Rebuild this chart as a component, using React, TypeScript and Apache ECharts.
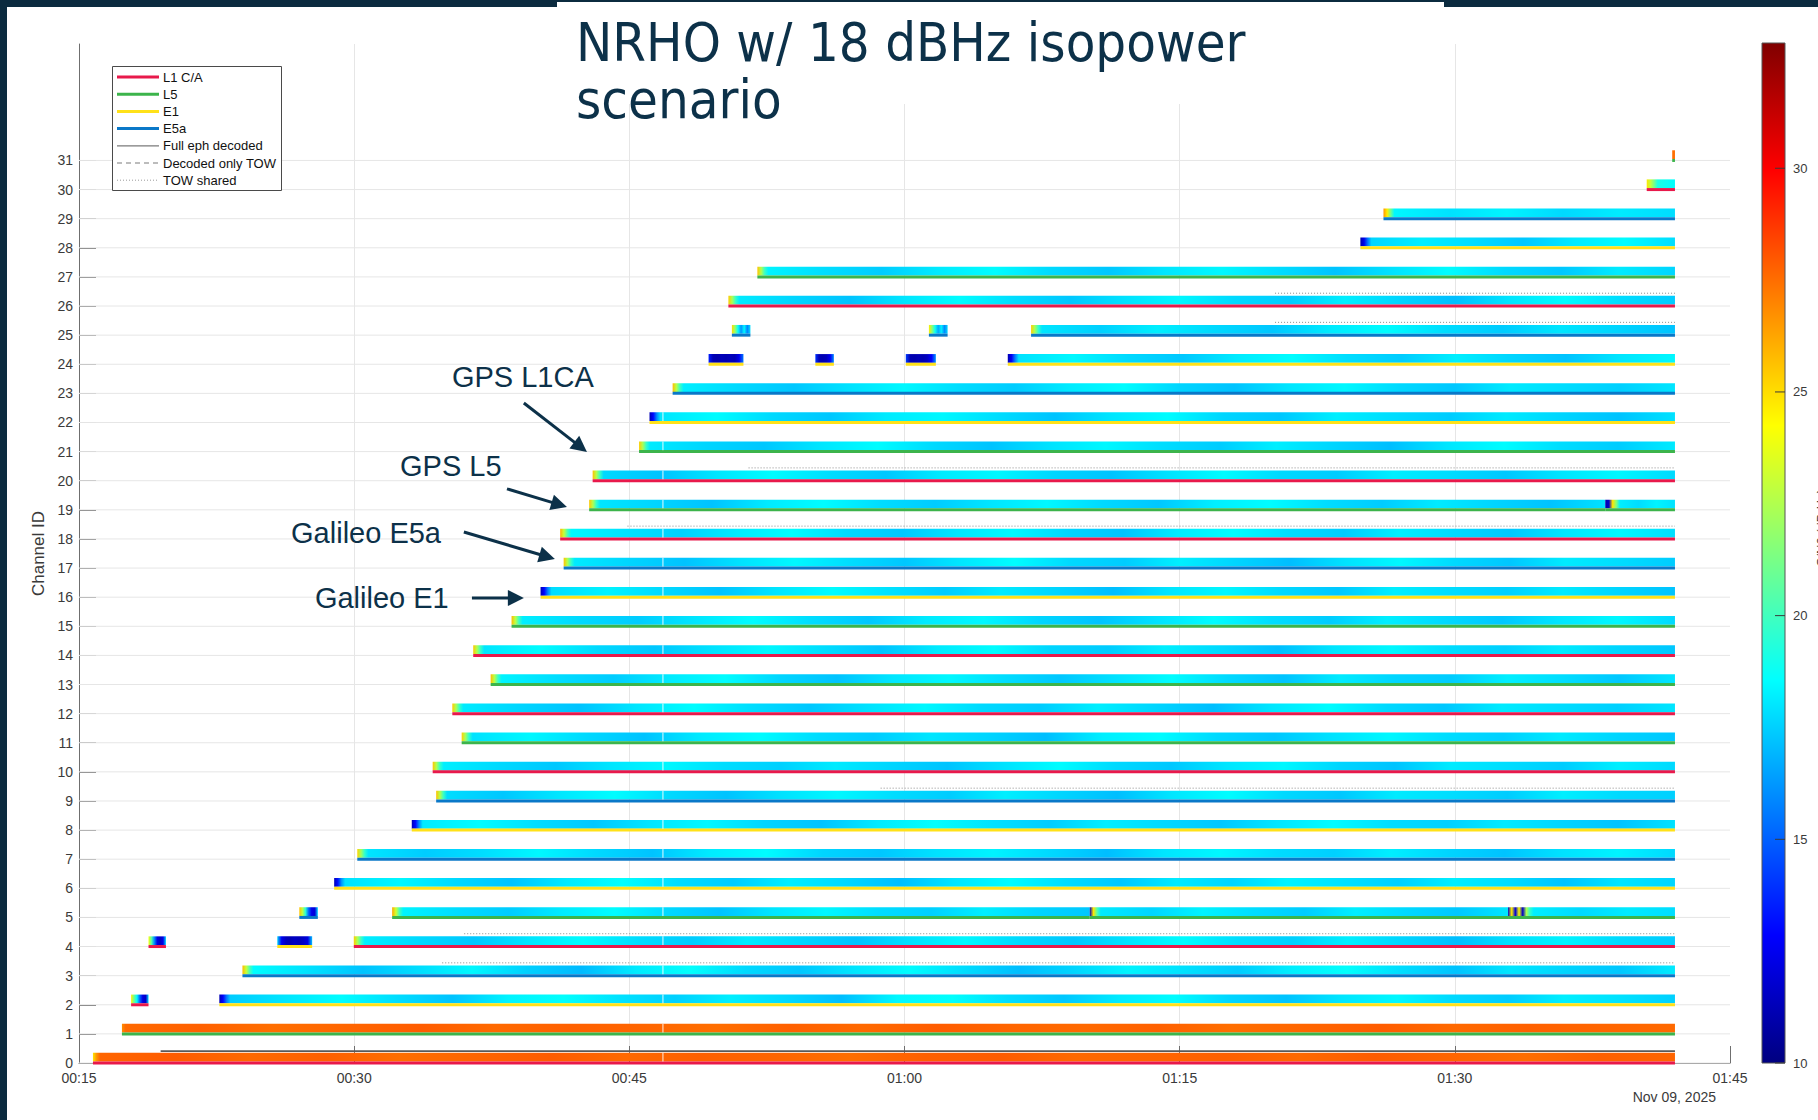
import React, { useEffect, useRef } from "react";
import * as echarts from "echarts";

// ---- axes -------------------------------------------------------------
// Time is in minutes after 00:00 (Nov 09, 2025)
const TIME_MIN = 15;
const TIME_MAX = 105;
const TIME_STEP = 15;
const DATE_LABEL = "Nov 09, 2025";

const CHANNEL_MAX = 35;
const CHANNEL_TICKS = [
  0, 1, 2, 3, 4, 5, 6, 7, 8, 9, 10, 11, 12, 13, 14, 15, 16, 17, 18, 19, 20, 21,
  22, 23, 24, 25, 26, 27, 28, 29, 30, 31,
];

// C/N0 colour scale (dB-Hz)
const CN0_MIN = 10;
const CN0_MAX = 32.8;
const CN0_TICKS = [10, 15, 20, 25, 30];

// ---- signals ------------------------------------------------------------
const SIGNAL_NAMES = ["L1 C/A", "L5", "E1", "E5a"];
const SIGNAL_COLORS = ["#e8194b", "#3cb44b", "#ffe119", "#0a78c8"];
const STATUS_NAMES = ["Full eph decoded", "Decoded only TOW", "TOW shared"];

// lead-in samples are LEAD_STEP minutes apart, the remaining C/N0 samples are
// spread evenly up to the end of the track
const LEAD_STEP = 0.2;

// [channel, signal, start, end, lead-in C/N0, C/N0]
type Track = [number, number, number, number, number[], number[]];
const TRACKS: Track[] = [
  [0, 0, 15.76, 102, [24.8, 26.6], [27.7, 27.9, 27.6, 27.8, 27.5, 27.7, 27.9, 27.6, 27.8, 27.7, 27.5, 27.8, 27.9, 27.6, 27.7, 27.8, 27.6, 27.9, 27.7, 27.5, 27.8, 27.7]],
  [1, 1, 17.34, 102, [26.8], [27.6, 27.8, 27.5, 27.7, 27.9, 27.6, 27.8, 27.7, 27.5, 27.8, 27.6, 27.9, 27.7, 27.6, 27.8, 27.5, 27.7, 27.9, 27.6, 27.8, 27.7, 27.6]],
  [2, 0, 17.84, 18.79, [], [24.5, 21, 18.5, 15, 12.2, 11.6, 17.5]],
  [2, 2, 22.65, 102, [11.2, 12.8, 15.5], [17.4, 18.0, 18.5, 17.8, 17.2, 18.3, 18.6, 17.9, 17.5, 18.2, 17.7, 17.1, 18.4, 18.6, 17.8, 17.3, 18.1, 18.5, 17.6, 17.2, 18.0, 18.4, 17.7, 17.4, 18.2, 17.9, 17.5]],
  [3, 3, 23.91, 102, [25.8, 23, 20.2], [18.5, 17.9, 17.2, 17.8, 18.4, 17.5, 17.0, 18.1, 18.6, 17.7, 17.3, 18.0, 18.5, 17.8, 17.1, 17.6, 18.3, 17.9, 17.4, 18.2, 18.6, 17.8, 17.2, 18.0, 17.6, 17.3, 18.1]],
  [4, 0, 18.79, 19.74, [], [24.2, 20.5, 16, 12.3, 11.5, 12.4, 17.8]],
  [4, 2, 25.81, 27.71, [], [17.5, 12.5, 11.4, 11.2, 11.5, 11.3, 11.6, 12.2, 17.2]],
  [4, 0, 29.98, 102, [25.4, 22.4, 19.8], [18.2, 17.7, 17.3, 18.0, 18.5, 17.8, 17.4, 18.1, 17.6, 17.2, 17.9, 18.4, 17.7, 17.3, 18.0, 18.5, 17.8, 17.5, 18.2, 17.6, 17.1, 17.9, 18.3, 17.7, 17.4]],
  [5, 3, 27.01, 28.02, [], [25.6, 22.8, 19.5, 15.2, 12.4, 12.0, 17.6]],
  [5, 1, 32.07, 70.1, [26.2, 23.2, 20.1], [18.3, 17.8, 17.4, 18.1, 18.5, 17.7, 17.2, 18.0, 18.4, 17.8, 17.5, 18.2, 17.6, 17.3]],
  [5, 1, 70.1, 92.9, [11.2, 24.8, 20.4], [18.1, 17.6, 18.3, 17.8, 17.4, 18.2, 17.7, 17.3, 18.0]],
  [5, 1, 92.9, 102, [11.4, 24.6, 12.0, 24.2, 11.6, 22.5, 19.6], [18.2, 17.7, 18.1, 17.8]],
  [6, 2, 28.91, 102, [11.3, 13.2, 16.2], [17.9, 18.4, 17.7, 17.2, 18.1, 18.6, 17.8, 17.4, 18.2, 17.7, 17.1, 18.0, 18.5, 17.8, 17.3, 18.1, 17.6, 18.3, 17.9, 17.5, 18.2, 17.8, 17.2, 18.0, 17.6]],
  [7, 3, 30.17, 102, [25.2, 22.2, 19.6], [18.0, 17.4, 17.8, 18.4, 17.7, 17.2, 18.1, 18.5, 17.6, 17.3, 17.9, 18.3, 17.7, 17.1, 18.0, 18.4, 17.8, 17.5, 18.2, 17.6, 17.2, 17.9, 18.3, 17.7]],
  [8, 2, 33.14, 102, [11.2, 13.0, 16.0], [18.1, 18.5, 17.8, 17.3, 18.0, 18.4, 17.6, 17.2, 18.1, 18.6, 17.9, 17.4, 18.2, 17.7, 17.3, 18.0, 18.5, 17.8, 17.5, 18.1, 17.6, 17.2, 17.9]],
  [9, 3, 34.47, 102, [25.6, 22.6, 19.8], [17.8, 17.3, 18.0, 18.5, 17.7, 17.2, 17.9, 18.4, 17.8, 17.4, 18.2, 17.6, 17.1, 18.0, 18.5, 17.7, 17.3, 18.1, 17.8, 17.4, 18.2, 17.7, 17.5]],
  [10, 0, 34.28, 102, [25.5, 22.5, 19.7], [18.2, 17.7, 17.3, 18.0, 18.4, 17.8, 17.5, 18.1, 17.6, 17.2, 17.9, 18.5, 17.7, 17.3, 18.0, 18.4, 17.6, 17.2, 18.1, 17.8, 17.4, 18.2, 17.7]],
  [11, 1, 35.86, 102, [25.3, 22.3, 19.6], [17.9, 18.4, 17.7, 17.2, 18.1, 18.5, 17.8, 17.4, 18.0, 17.6, 17.1, 18.2, 18.5, 17.7, 17.3, 17.9, 18.4, 17.8, 17.5, 18.1, 17.6, 17.3]],
  [12, 0, 35.35, 102, [25.4, 22.4, 19.7], [18.1, 17.6, 17.2, 18.0, 18.5, 17.8, 17.3, 17.9, 18.4, 17.7, 17.4, 18.2, 17.6, 17.1, 18.0, 18.5, 17.7, 17.3, 18.1, 17.8, 17.5, 18.0]],
  [13, 1, 37.44, 102, [25.7, 22.7, 19.9], [18.3, 17.8, 17.4, 18.1, 18.5, 17.6, 17.2, 18.0, 18.4, 17.8, 17.3, 17.9, 18.5, 17.7, 17.2, 18.1, 17.6, 17.4, 18.2, 17.8, 17.3, 18.0]],
  [14, 0, 36.49, 102, [25.5, 22.5, 19.8], [18.0, 18.5, 17.7, 17.3, 17.9, 18.4, 17.8, 17.2, 18.1, 18.5, 17.6, 17.4, 18.2, 17.7, 17.1, 18.0, 18.4, 17.8, 17.5, 18.1, 17.6, 17.3]],
  [15, 1, 38.58, 102, [25.8, 22.8, 20.0], [18.2, 17.7, 17.4, 18.0, 18.5, 17.8, 17.3, 18.1, 18.4, 17.6, 17.2, 17.9, 18.5, 17.8, 17.4, 18.2, 17.7, 17.3, 18.0, 18.4, 17.7]],
  [16, 2, 40.16, 102, [11.2, 12.9, 15.8], [17.8, 18.3, 17.7, 17.2, 18.0, 18.5, 17.9, 17.4, 18.1, 17.6, 17.1, 18.0, 18.4, 17.7, 17.3, 18.2, 17.8, 17.5, 18.1, 17.6, 17.2]],
  [17, 3, 41.42, 102, [25.6, 22.6, 19.8], [18.1, 17.6, 17.2, 17.9, 18.4, 17.8, 17.3, 18.0, 18.5, 17.7, 17.4, 18.2, 17.6, 17.1, 17.9, 18.4, 17.7, 17.3, 18.1, 17.8, 17.4]],
  [18, 0, 41.23, 102, [25.9, 23.0, 20.2], [18.4, 17.9, 17.5, 18.1, 18.5, 17.7, 17.3, 18.0, 18.4, 17.6, 17.2, 18.1, 18.5, 17.8, 17.4, 18.2, 17.7, 17.3, 18.0, 18.4, 17.8]],
  [19, 1, 42.81, 98.2, [25.5, 22.5, 19.7], [18.0, 17.6, 17.2, 18.1, 18.5, 17.8, 17.4, 18.0, 18.4, 17.7, 17.3, 18.2, 18.5, 17.8, 17.4, 18.1, 17.6, 17.2, 17.9]],
  [19, 1, 98.2, 102, [11.0, 11.6, 24.8, 21.5], [18.2, 17.8, 18.3, 17.9]],
  [20, 0, 43.0, 102, [25.6, 22.6, 19.8], [17.7, 17.2, 18.0, 18.5, 17.8, 17.3, 18.1, 18.4, 17.6, 17.2, 17.9, 18.5, 17.7, 17.4, 18.2, 17.8, 17.3, 18.0, 18.4, 17.7]],
  [21, 1, 45.53, 102, [25.4, 22.4, 19.7], [18.1, 17.6, 17.3, 18.0, 18.5, 17.7, 17.2, 17.9, 18.4, 17.8, 17.4, 18.2, 17.6, 17.1, 18.0, 18.5, 17.8, 17.4, 18.1]],
  [22, 2, 46.1, 102, [11.2, 13.0, 16.0], [18.0, 18.5, 17.7, 17.3, 18.1, 18.4, 17.8, 17.2, 18.0, 18.5, 17.6, 17.3, 18.2, 17.8, 17.4, 18.1, 17.6, 17.2, 17.9]],
  [23, 3, 47.36, 102, [25.7, 22.7, 19.9], [18.2, 17.7, 17.3, 17.9, 18.4, 17.8, 17.4, 18.1, 18.5, 17.6, 17.2, 18.0, 18.4, 17.7, 17.3, 18.1, 17.8, 17.5, 18.0]],
  [24, 2, 49.32, 51.22, [], [13.5, 11.2, 11.0, 11.3, 11.1, 11.4, 11.2, 12.5, 15.5]],
  [24, 2, 55.14, 56.15, [], [14.0, 11.3, 11.1, 11.4, 12.6, 16.0]],
  [24, 2, 60.07, 61.71, [], [14.2, 11.2, 11.0, 11.3, 11.1, 11.5, 12.8, 16.2]],
  [24, 2, 65.63, 102, [11.1, 12.6, 15.6], [17.9, 18.4, 17.7, 17.3, 18.1, 18.5, 17.8, 17.4, 18.2, 17.6, 17.2, 18.0, 18.4]],
  [25, 3, 50.59, 51.6, [], [25.0, 22.0, 18.6, 16.2, 18.4, 15.8, 17.8]],
  [25, 3, 61.33, 62.35, [], [24.6, 21.6, 18.8, 16.6, 18.2, 16.0, 17.6]],
  [25, 3, 66.9, 102, [25.3, 22.3, 19.7], [18.0, 17.5, 18.2, 17.7, 17.3, 18.1, 18.5, 17.8, 17.4, 18.0, 17.6, 17.2]],
  [26, 0, 50.4, 102, [25.4, 22.4, 19.7], [18.1, 17.6, 17.2, 18.0, 18.5, 17.8, 17.3, 17.9, 18.4, 17.7, 17.4, 18.2, 17.6, 17.1, 18.0, 18.5, 17.8, 17.4]],
  [27, 1, 51.98, 102, [25.6, 22.6, 19.8], [18.3, 17.8, 17.4, 18.1, 18.5, 17.7, 17.3, 18.0, 18.4, 17.8, 17.2, 17.9, 18.5, 17.7, 17.3, 18.1, 17.6]],
  [28, 2, 84.85, 102, [11.0, 12.4, 15.4], [17.6, 18.2, 17.8, 17.3, 18.1, 18.5, 17.8]],
  [29, 3, 86.11, 102, [26.6, 24.6, 21.0], [18.4, 17.9, 18.3, 17.7, 18.1, 17.8]],
  [30, 0, 100.46, 102, [24.8, 23.0, 21.2], [19.2, 18.5]],
  [31, 1, 101.85, 102, [], [27.5, 27.5]],
];

// navigation-message status lines: [channel, start, end]
const FULL_EPH: [number, number, number][] = [[0, 19.45, 102]];
const TOW_SHARED: [number, number, number][] = [
  [3, 34.8, 102],
  [4, 36.0, 102],
  [9, 58.7, 102],
  [18, 44.9, 102],
  [20, 51.5, 102],
  [25, 80.2, 102],
  [26, 80.2, 102],
];

// epochs missing from the log
const DATA_GAPS = [46.83];

// call-outs: label position, arrow start and arrow tip in [time, channel]
const ANNOTATIONS = [
  { label: "GPS L1CA", at: [35.33, 23.56], from: [39.25, 22.67], to: [42.69, 20.99] },
  { label: "GPS L5", at: [32.5, 20.5], from: [38.33, 19.72], to: [41.6, 19.1] },
  { label: "Galileo E5a", at: [26.56, 18.2], from: [35.98, 18.24], to: [40.94, 17.31] },
  { label: "Galileo E1", at: [27.86, 15.97], from: [36.42, 15.97], to: [39.25, 15.97] },
];

const TITLE_LINES = ["NRHO w/ 18 dBHz isopower", "scenario"];
const CN0_LABEL = "C/N0 (dB-Hz)";

// ---- styling ------------------------------------------------------------
const W = 1818;
const H = 1120;
const NAVY = "#0c3149";
const FRAME = "#0b2b3f";
const AXIS = "#6f6f6f";
const TEXT = "#3a3a3a";
const GRID = "#e6e6e6";
const SANS = "'Liberation Sans', Arial, Helvetica, sans-serif";

// MATLAB jet colormap
const JET: [number, [number, number, number]][] = [
  [0, [0, 0, 128]],
  [0.125, [0, 0, 255]],
  [0.375, [0, 255, 255]],
  [0.625, [255, 255, 0]],
  [0.875, [255, 0, 0]],
  [1, [128, 0, 0]],
];

function jet(v: number): string {
  const f = Math.max(0, Math.min(1, (v - CN0_MIN) / (CN0_MAX - CN0_MIN)));
  for (let i = 1; i < JET.length; i++) {
    const [p1, c1] = JET[i];
    if (f <= p1) {
      const [p0, c0] = JET[i - 1];
      const k = (f - p0) / (p1 - p0);
      const c = c0.map((a, j) => Math.round(a + (c1[j] - a) * k));
      return `rgb(${c[0]},${c[1]},${c[2]})`;
    }
  }
  const c = JET[JET.length - 1][1];
  return `rgb(${c[0]},${c[1]},${c[2]})`;
}

function hhmm(v: number): string {
  const h = Math.floor(v / 60);
  const m = Math.round(v - h * 60);
  return `${String(h).padStart(2, "0")}:${String(m).padStart(2, "0")}`;
}

function trackItem(_params: any, api: any) {
  const [ch, sig, t0, t1, lead, cn0] = TRACKS[api.value(3)];
  const pTop = api.coord([t0, ch + 0.35]);
  const pBot = api.coord([t1, ch + 0.05]);
  const pLine = api.coord([t0, ch]);
  const x0 = pTop[0];
  const w = Math.max(pBot[0] - x0, 1.5);
  const span = t1 - t0;
  const stops: { offset: number; color: string }[] = [];
  lead.forEach((v, i) =>
    stops.push({ offset: Math.min(1, (i * LEAD_STEP) / span), color: jet(v) })
  );
  const bStart = lead.length ? t0 + lead.length * LEAD_STEP : t0;
  cn0.forEach((v, j) => {
    const t = cn0.length > 1 ? bStart + (j * (t1 - bStart)) / (cn0.length - 1) : bStart;
    stops.push({ offset: Math.min(1, (t - t0) / span), color: jet(v) });
  });
  const children: any[] = [
    {
      type: "rect",
      shape: { x: x0, y: pTop[1], width: w, height: pBot[1] - pTop[1] },
      style: { fill: new echarts.graphic.LinearGradient(0, 0, 1, 0, stops) },
    },
    {
      type: "rect",
      shape: { x: x0, y: pLine[1] - 1.5, width: w, height: 3 },
      style: { fill: SIGNAL_COLORS[sig] },
    },
  ];
  DATA_GAPS.forEach((g) => {
    if (g > t0 && g < t1) {
      const gx = api.coord([g, ch])[0];
      children.push({
        type: "rect",
        shape: { x: gx - 0.75, y: pTop[1], width: 1.5, height: pBot[1] - pTop[1] },
        style: { fill: "rgba(255,255,255,0.6)" },
      });
    }
  });
  return { type: "group", children };
}

function statusLine(offset: number, style: any) {
  return (_params: any, api: any) => {
    const ch = api.value(2);
    const a = api.coord([api.value(0), ch + offset]);
    const b = api.coord([api.value(1), ch + offset]);
    return {
      type: "line",
      shape: { x1: a[0], y1: a[1], x2: b[0], y2: b[1] },
      style,
    };
  };
}

// colour bar with tick marks on its inner right edge and the tick labels
function colorBarItem(cbStops: any[]) {
  return (_p: any, api: any) => {
    const a = api.coord([0, CN0_MAX]);
    const b = api.coord([1, CN0_MIN]);
    const children: any[] = [
      {
        type: "rect",
        shape: { x: a[0], y: a[1], width: b[0] - a[0], height: b[1] - a[1] },
        style: {
          fill: new echarts.graphic.LinearGradient(0, 0, 0, 1, cbStops),
          stroke: "#555",
          lineWidth: 1,
        },
      },
    ];
    CN0_TICKS.forEach((v) => {
      const y = api.coord([1, v])[1];
      children.push({
        type: "line",
        shape: { x1: b[0] - 10, y1: y, x2: b[0], y2: y },
        style: { stroke: "#3a3a3a", lineWidth: 1 },
      });
      children.push({
        type: "text",
        x: b[0] + 8,
        y,
        style: {
          text: String(v),
          fontSize: 13,
          fontFamily: SANS,
          fill: TEXT,
          align: "left",
          verticalAlign: "middle",
        },
      });
    });
    return { type: "group", children };
  };
}

function legendGraphics() {
  const x = 112;
  const y = 66;
  const rowH = 17.2;
  const items: any[] = [
    {
      type: "rect",
      shape: { x: x + 0.5, y: y + 0.5, width: 169, height: 124 },
      style: { fill: "#fff", stroke: "#4a4a4a", lineWidth: 1 },
      z: 20,
    },
  ];
  const rows = [
    ...SIGNAL_NAMES.map((name, i) => ({
      name,
      style: { stroke: SIGNAL_COLORS[i], lineWidth: 3 },
    })),
    { name: STATUS_NAMES[0], style: { stroke: "#7a7a7a", lineWidth: 1.2 } },
    { name: STATUS_NAMES[1], style: { stroke: "#7a7a7a", lineWidth: 1.2, lineDash: [5, 4] } },
    { name: STATUS_NAMES[2], style: { stroke: "#9a9a9a", lineWidth: 1, lineDash: [1, 2] } },
  ];
  rows.forEach((r, i) => {
    const cy = y + 11 + i * rowH;
    items.push({
      type: "line",
      shape: { x1: x + 5, y1: cy, x2: x + 47, y2: cy },
      style: r.style,
      z: 21,
    });
    items.push({
      type: "text",
      x: x + 51,
      y: cy,
      style: {
        text: r.name,
        fontSize: 13,
        fontFamily: SANS,
        fill: "#111",
        align: "left",
        verticalAlign: "middle",
      },
      z: 21,
    });
  });
  return items;
}

function arrowGraphics(chart: any) {
  const out: any[] = [];
  ANNOTATIONS.forEach((a) => {
    const p = chart.convertToPixel({ gridIndex: 0 }, a.at);
    const s = chart.convertToPixel({ gridIndex: 0 }, a.from);
    const e = chart.convertToPixel({ gridIndex: 0 }, a.to);
    const dx = e[0] - s[0];
    const dy = e[1] - s[1];
    const len = Math.hypot(dx, dy);
    const ux = dx / len;
    const uy = dy / len;
    const head = 16;
    const half = 8;
    const bx = e[0] - ux * head;
    const by = e[1] - uy * head;
    out.push({
      type: "text",
      x: p[0],
      y: p[1],
      style: {
        text: a.label,
        fontSize: 29,
        fontFamily: SANS,
        fill: NAVY,
        align: "left",
        verticalAlign: "middle",
      },
      z: 30,
    });
    out.push({
      type: "line",
      shape: { x1: s[0], y1: s[1], x2: bx + ux * 2, y2: by + uy * 2 },
      style: { stroke: NAVY, lineWidth: 3 },
      z: 30,
    });
    out.push({
      type: "polygon",
      shape: {
        points: [
          [e[0], e[1]],
          [bx - uy * half, by + ux * half],
          [bx + uy * half, by - ux * half],
        ],
      },
      style: { fill: NAVY },
      z: 30,
    });
  });
  return out;
}

function frameGraphics() {
  return [
    { type: "rect", shape: { x: 556, y: 0, width: 888, height: 104 }, style: { fill: "#fff" }, z: 15 },
    { type: "rect", shape: { x: 0, y: 0, width: 7, height: H }, style: { fill: FRAME }, z: 16 },
    { type: "rect", shape: { x: 0, y: 0, width: 557, height: 7 }, style: { fill: FRAME }, z: 16 },
    { type: "rect", shape: { x: 1444, y: 0, width: W - 1444, height: 7 }, style: { fill: FRAME }, z: 16 },
    { type: "rect", shape: { x: 557, y: 0, width: 887, height: 2 }, style: { fill: FRAME }, z: 16 },
    ...TITLE_LINES.map((line, i) => ({
      type: "text",
      x: 576,
      y: 42 + i * 57,
      scaleX: 0.9,
      style: {
        text: line,
        fontSize: 54,
        fontFamily: "'DejaVu Sans', Verdana, sans-serif",
        fill: NAVY,
        align: "left",
        verticalAlign: "middle",
      },
      z: 17,
    })),
    {
      type: "text",
      x: 1716,
      y: 1097,
      style: {
        text: DATE_LABEL,
        fontSize: 14,
        fontFamily: SANS,
        fill: TEXT,
        align: "right",
        verticalAlign: "middle",
      },
      z: 17,
    },
    {
      type: "text",
      x: 1821,
      y: 528,
      rotation: Math.PI / 2,
      style: {
        text: CN0_LABEL,
        fontSize: 13,
        fontFamily: SANS,
        fill: TEXT,
        align: "center",
        verticalAlign: "middle",
      },
      z: 17,
    },
  ];
}

function buildOption() {
  const cbStops = JET.map(([p, c]) => ({
    offset: 1 - p,
    color: `rgb(${c[0]},${c[1]},${c[2]})`,
  })).reverse();

  return {
    animation: false,
    backgroundColor: "#ffffff",
    textStyle: { fontFamily: SANS },
    grid: [
      { left: 79, top: 44, width: 1651, height: 1019 },
      { left: 1762, top: 43, width: 23, height: 1020 },
    ],
    xAxis: [
      {
        gridIndex: 0,
        type: "value",
        min: TIME_MIN,
        max: TIME_MAX,
        interval: TIME_STEP,
        axisLine: { show: true, onZero: false, lineStyle: { color: AXIS, width: 1 } },
        axisTick: { show: true, inside: true, length: 17, lineStyle: { color: AXIS } },
        axisLabel: {
          formatter: (v: number) => hhmm(v),
          fontSize: 14,
          color: TEXT,
          margin: 8,
          fontFamily: SANS,
        },
        splitLine: {
          show: true,
          showMaxLine: false,
          lineStyle: { color: GRID, width: 1 },
        },
      },
      { gridIndex: 1, type: "value", min: 0, max: 1, show: false },
    ],
    yAxis: [
      {
        gridIndex: 0,
        type: "value",
        min: 0,
        max: CHANNEL_MAX,
        interval: 1,
        name: "Channel ID",
        nameLocation: "middle",
        nameGap: 27,
        nameTextStyle: { fontSize: 17, color: TEXT, fontFamily: SANS },
        axisLine: { show: true, onZero: false, lineStyle: { color: AXIS, width: 1 } },
        axisTick: {
          show: true,
          inside: true,
          length: 17,
          customValues: CHANNEL_TICKS,
          lineStyle: { color: AXIS },
        },
        axisLabel: {
          customValues: CHANNEL_TICKS,
          formatter: (v: number) =>
            v <= CHANNEL_TICKS[CHANNEL_TICKS.length - 1] ? String(v) : "",
          fontSize: 14,
          color: TEXT,
          margin: 6,
          fontFamily: SANS,
        },
        splitLine: { show: false },
      },
      {
        gridIndex: 1,
        type: "value",
        min: CN0_MIN,
        max: CN0_MAX,
        interval: 5,
        show: false,
      },
    ],
    series: [
      {
        // horizontal grid lines at each channel
        type: "custom",
        xAxisIndex: 0,
        yAxisIndex: 0,
        z: 1,
        silent: true,
        data: CHANNEL_TICKS.map((c) => [TIME_MIN, TIME_MAX, c]),
        encode: { x: [0, 1], y: 2 },
        renderItem: statusLine(0, { stroke: GRID, lineWidth: 1 }),
      },
      {
        type: "custom",
        xAxisIndex: 0,
        yAxisIndex: 0,
        z: 3,
        silent: true,
        data: TRACKS.map((t, i) => [t[2], t[3], t[0], i]),
        encode: { x: [0, 1], y: 2 },
        renderItem: trackItem,
      },
      {
        type: "custom",
        xAxisIndex: 0,
        yAxisIndex: 0,
        z: 4,
        silent: true,
        data: FULL_EPH.map(([ch, t0, t1]) => [t0, t1, ch]),
        encode: { x: [0, 1], y: 2 },
        renderItem: statusLine(0.41, { stroke: "#5a5a5a", lineWidth: 1.8 }),
      },
      {
        type: "custom",
        xAxisIndex: 0,
        yAxisIndex: 0,
        z: 4,
        silent: true,
        data: TOW_SHARED.map(([ch, t0, t1]) => [t0, t1, ch]),
        encode: { x: [0, 1], y: 2 },
        renderItem: statusLine(0.44, { stroke: "#8c8c8c", lineWidth: 1, lineDash: [1, 2] }),
      },
      {
        type: "custom",
        xAxisIndex: 1,
        yAxisIndex: 1,
        z: 2,
        silent: true,
        data: [[0, CN0_MIN]],
        renderItem: colorBarItem(cbStops),
      },
    ],
  };
}

export default function App() {
  const ref = useRef<HTMLDivElement>(null);

  useEffect(() => {
    document.body.style.margin = "0";
    const el = ref.current;
    if (!el) return;
    const chart = echarts.init(el, undefined, { renderer: "svg" });
    chart.setOption(buildOption() as any);
    chart.setOption({
      graphic: { elements: [...frameGraphics(), ...legendGraphics(), ...arrowGraphics(chart)] },
    } as any);
    return () => {
      chart.dispose();
    };
  }, []);

  return (
    <div
      ref={ref}
      style={{
        position: "fixed",
        left: 0,
        top: 0,
        width: W,
        height: H,
        background: "#fff",
      }}
    />
  );
}
